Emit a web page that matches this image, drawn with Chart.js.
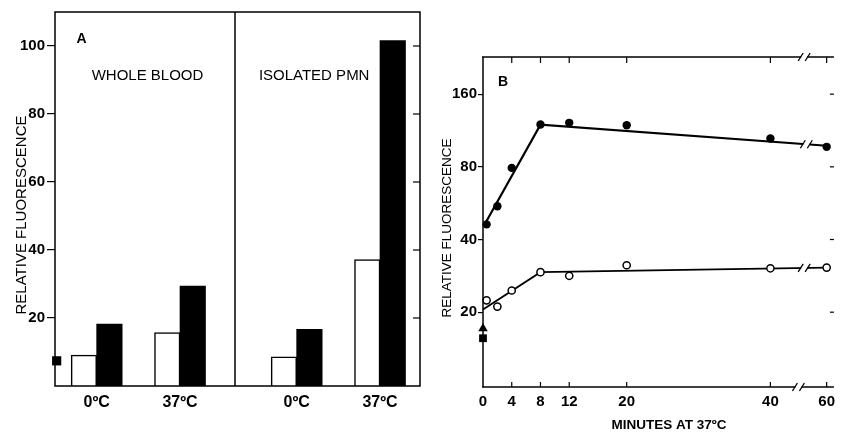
<!DOCTYPE html>
<html><head><meta charset="utf-8">
<script src="https://cdn.jsdelivr.net/npm/chart.js@4/dist/chart.umd.min.js"></script>
<style>
html,body{margin:0;padding:0;background:#fff;overflow:hidden;width:841px;height:435px}
#a{position:absolute;left:0;top:0}
#b{position:absolute;left:420px;top:0}
</style></head><body>
<canvas id="a" width="425" height="435"></canvas>
<canvas id="b" width="421" height="435"></canvas>
<script>
// ---------- Panel A data ----------
const groupsA = ['WHOLE BLOOD', 'ISOLATED PMN'];
const tempsA = ['0ºC', '37ºC', '0ºC', '37ºC'];
const openBarsA = [9.1, 15.7, 8.6, 37.2];
const filledBarsA = [18.2, 29.4, 16.7, 101.6];
const markerA = [7.4];
const yTicksA = [20, 40, 60, 80, 100];

// ---------- Panel B data ----------
const minutesB = [0.5, 2, 4, 8, 12, 20, 40, 60];
const filledB = [46.2, 54.9, 79.2, 119.8, 121.7, 119.0, 104.8, 96.8];
const openB = [22.4, 21.1, 24.6, 29.3, 28.3, 31.3, 30.4, 30.6];
const filledFitMinutesB = [0.3, 8, 60];
const filledFitB = [46.6, 119.5, 97.8];
const openFitMinutesB = [0, 8, 60];
const openFitB = [20.5, 29.3, 30.6];
const triangleB = [17.1];
const squareB = [15.6];
const xTicksB = [0, 4, 8, 12, 20, 40, 60];
const yTicksB = [20, 40, 80, 160];

// ---------- layout (not data) ----------
const groupPosA = [0.5, 1.5, 2.9, 3.9];   // slot positions of the 4 bar groups
const dividerA = 2.16;
const brk = t => (t <= 40 ? t : 40 + (t - 40) * 0.3915);  // axis break 40 -> 60

const FONT = "'Liberation Sans', Arial, Helvetica, sans-serif";
const NARROW = "'Liberation Sans Narrow', 'Arial Narrow', 'Liberation Sans', Arial, sans-serif";

function seg(ctx, x1, y1, x2, y2) { ctx.beginPath(); ctx.moveTo(x1, y1); ctx.lineTo(x2, y2); ctx.stroke(); }

// ---------- Panel A ----------
const panelAPlugin = {
  id: 'panelA',
  afterDraw(chart) {
    const { ctx, chartArea: ca, scales: { x, y } } = chart;
    ctx.save();
    ctx.strokeStyle = '#000'; ctx.fillStyle = '#000';
    ctx.lineWidth = 1.5;
    ctx.strokeRect(ca.left, ca.top, ca.right - ca.left, ca.bottom - ca.top);
    const dx = x.getPixelForValue(dividerA);
    seg(ctx, dx, ca.top, dx, ca.bottom);
    ctx.lineWidth = 1.2;
    yTicksA.forEach(v => { const py = y.getPixelForValue(v); seg(ctx, ca.right - 7, py, ca.right, py); });
    ctx.textAlign = 'center'; ctx.textBaseline = 'middle';
    ctx.font = 'bold 14px ' + FONT;
    ctx.fillText('A', x.getPixelForValue(0.32), y.getPixelForValue(102));
    ctx.font = '15px ' + FONT;
    ctx.fillText(groupsA[0], x.getPixelForValue(1.11), y.getPixelForValue(91.2));
    ctx.fillText(groupsA[1], x.getPixelForValue(3.11), y.getPixelForValue(91.2));
    ctx.translate(22, 215); ctx.rotate(-Math.PI / 2);
    ctx.fillText('RELATIVE FLUORESCENCE', 0, 0);
    ctx.restore();
  }
};

new Chart(document.getElementById('a'), {
  type: 'bar',
  data: {
    datasets: [
      { type: 'scatter', data: [{ x: 0.02, y: markerA[0] }], pointStyle: 'rect', pointRadius: 6.5,
        backgroundColor: '#000', borderColor: '#000', borderWidth: 0, clip: false },
      { data: groupPosA.map((p, i) => ({ x: p, y: openBarsA[i] })), backgroundColor: '#fff',
        borderColor: '#000', borderWidth: 1.5, barThickness: 25.5 },
      { data: groupPosA.map((p, i) => ({ x: p, y: filledBarsA[i] })), backgroundColor: '#000',
        borderColor: '#000', borderWidth: 0, barThickness: 25.5 }
    ]
  },
  options: {
    responsive: false, animation: false, events: [],
    layout: { autoPadding: false, padding: { left: 0, top: 12, right: 5, bottom: 19 } },
    plugins: { legend: { display: false }, tooltip: { enabled: false } },
    scales: {
      x: {
        type: 'linear', min: 0, max: 4.38, offset: false,
        afterBuildTicks: s => { s.ticks = groupPosA.map(v => ({ value: v })); },
        afterFit: s => { s.height = 30; },
        grid: { display: false, drawTicks: false },
        border: { display: false },
        ticks: { callback: (v, i) => tempsA[i], color: '#000', font: { family: NARROW, size: 16, weight: 'bold' }, padding: 7, maxRotation: 0, autoSkip: false }
      },
      y: {
        min: 0, max: 110,
        afterBuildTicks: s => { s.ticks = yTicksA.map(v => ({ value: v })); },
        afterFit: s => { s.width = 55; },
        grid: { drawOnChartArea: false, drawTicks: true, tickLength: 8, color: '#000', lineWidth: 1.2 },
        border: { display: false },
        ticks: { color: '#000', font: { family: NARROW, size: 15, weight: 'bold' }, padding: 2 }
      }
    }
  },
  plugins: [panelAPlugin]
});

// ---------- Panel B ----------
function lineYAt(chart, dsIndex, px) {
  const pts = chart.getDatasetMeta(dsIndex).data;
  for (let i = 0; i < pts.length - 1; i++) {
    const a = pts[i], b = pts[i + 1];
    if (px >= a.x && px <= b.x) return a.y + (b.y - a.y) * (px - a.x) / (b.x - a.x);
  }
  return pts[pts.length - 1].y;
}
function breakMark(ctx, cx, cy) {
  ctx.save();
  ctx.fillStyle = '#fff';
  ctx.fillRect(cx - 3, cy - 2, 6, 4);
  ctx.strokeStyle = '#000'; ctx.lineWidth = 1.3;
  seg(ctx, cx - 6, cy + 4, cx - 1, cy - 4);
  seg(ctx, cx + 1, cy + 4, cx + 6, cy - 4);
  ctx.restore();
}
const panelBPlugin = {
  id: 'panelB',
  afterDraw(chart) {
    const { ctx, chartArea: ca, scales: { x, y } } = chart;
    ctx.save();
    ctx.strokeStyle = '#000'; ctx.fillStyle = '#000';
    ctx.lineWidth = 1.5;
    seg(ctx, ca.left, ca.top, ca.left, ca.bottom);
    seg(ctx, ca.left - 1, ca.bottom, ca.right, ca.bottom);
    seg(ctx, ca.left - 1, ca.top, ca.right, ca.top);
    ctx.lineWidth = 1.2;
    xTicksB.forEach(t => {
      if (t === 0) return;
      const px = x.getPixelForValue(brk(t));
      seg(ctx, px, ca.bottom, px, ca.bottom - 5);
      seg(ctx, px, ca.top, px, ca.top + 6);
    });
    yTicksB.forEach(v => { const py = y.getPixelForValue(v); seg(ctx, ca.right - 4, py, ca.right, py); });
    breakMark(ctx, x.getPixelForValue(43.9), ca.bottom);
    breakMark(ctx, x.getPixelForValue(44.7), ca.top);
    const fx = x.getPixelForValue(45.0);
    breakMark(ctx, fx, lineYAt(chart, 4, fx));
    const ox = x.getPixelForValue(44.7);
    breakMark(ctx, ox, lineYAt(chart, 5, ox));
    ctx.textAlign = 'center'; ctx.textBaseline = 'middle';
    ctx.font = 'bold 14px ' + FONT;
    ctx.fillText('B', x.getPixelForValue(2.8), y.getPixelForValue(180));
    ctx.font = 'bold 13.5px ' + FONT;
    ctx.fillText('MINUTES AT 37ºC', 249, 425);
    ctx.font = '13.5px ' + FONT;
    ctx.translate(27.5, 228); ctx.rotate(-Math.PI / 2);
    ctx.fillText('RELATIVE FLUORESCENCE', 0, 0);
    ctx.restore();
  }
};

new Chart(document.getElementById('b'), {
  type: 'scatter',
  data: {
    datasets: [
      { data: minutesB.map((t, i) => ({ x: brk(t), y: filledB[i] })), pointStyle: 'circle', pointRadius: 4.2,
        backgroundColor: '#000', borderColor: '#000', borderWidth: 0, clip: false },
      { data: minutesB.map((t, i) => ({ x: brk(t), y: openB[i] })), pointStyle: 'circle', pointRadius: 3.6,
        backgroundColor: '#fff', borderColor: '#000', borderWidth: 1.5, clip: false },
      { data: [{ x: 0, y: triangleB[0] }], pointStyle: 'triangle', pointRadius: 5.5,
        backgroundColor: '#000', borderColor: '#000', borderWidth: 0, clip: false },
      { data: [{ x: 0, y: squareB[0] }], pointStyle: 'rect', pointRadius: 5.5,
        backgroundColor: '#000', borderColor: '#000', borderWidth: 0, clip: false },
      { type: 'line', data: filledFitMinutesB.map((t, i) => ({ x: brk(t), y: filledFitB[i] })),
        borderColor: '#000', borderWidth: 2.2, pointRadius: 0, tension: 0, fill: false, clip: false },
      { type: 'line', data: openFitMinutesB.map((t, i) => ({ x: brk(t), y: openFitB[i] })),
        borderColor: '#000', borderWidth: 1.8, pointRadius: 0, tension: 0, fill: false, clip: false }
    ]
  },
  options: {
    responsive: false, animation: false, events: [],
    layout: { autoPadding: false, padding: { left: 0, top: 57, right: 0, bottom: 18 } },
    plugins: { legend: { display: false }, tooltip: { enabled: false } },
    scales: {
      x: {
        type: 'linear', min: 0, max: 48.84,
        afterBuildTicks: s => { s.ticks = xTicksB.map(t => ({ value: brk(t) })); },
        afterFit: s => { s.height = 30; },
        grid: { display: false, drawTicks: false },
        border: { display: false },
        ticks: { callback: (v, i) => String(xTicksB[i]), color: '#000', font: { family: NARROW, size: 15, weight: 'bold' }, padding: 6, maxRotation: 0, autoSkip: false }
      },
      y: {
        type: 'logarithmic', min: 9.8, max: 228,
        afterBuildTicks: s => { s.ticks = yTicksB.map(v => ({ value: v })); },
        afterFit: s => { s.width = 63; },
        grid: { drawOnChartArea: false, drawTicks: true, tickLength: 5, color: '#000', lineWidth: 1.2 },
        border: { display: false },
        ticks: { callback: v => String(v), color: '#000', font: { family: NARROW, size: 15, weight: 'bold' }, padding: 1 }
      }
    }
  },
  plugins: [panelBPlugin]
});
</script>
</body></html>
